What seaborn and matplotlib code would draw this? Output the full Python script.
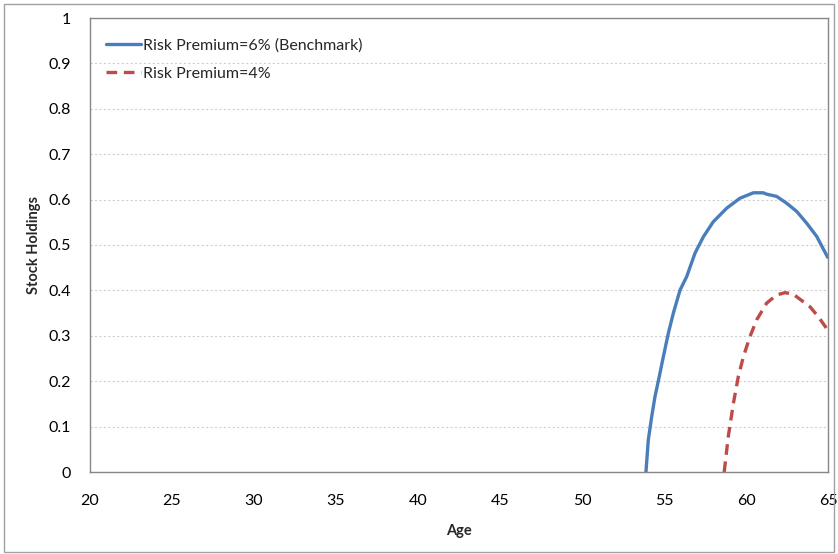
import pandas as pd
import seaborn as sns
import matplotlib.pyplot as plt
from matplotlib.patches import Rectangle

# Datos
age_6 = [53.9, 54.04, 54.25, 54.45, 54.71, 54.96, 55.26, 55.57, 55.98, 56.38,
         56.89, 57.4, 58.0, 58.82, 59.63, 60.45, 61.05, 61.26, 61.87,
         62.48, 63.09, 63.7, 64.31, 64.98]
stock_6 = [0.0, 0.07, 0.122, 0.166, 0.21, 0.254, 0.305, 0.35, 0.401, 0.43,
           0.482, 0.518, 0.551, 0.581, 0.603, 0.615, 0.615, 0.612, 0.607,
           0.592, 0.574, 0.548, 0.519, 0.473]

age_4 = [58.67, 58.92, 59.23, 59.53, 59.84, 60.24, 60.65, 61.26, 61.87, 62.38,
         62.87, 63.09, 63.9, 64.41, 64.92]
stock_4 = [0.0, 0.078, 0.151, 0.21, 0.254, 0.298, 0.335, 0.372, 0.39, 0.395,
           0.392, 0.386, 0.364, 0.342, 0.316]

labels = ['Risk Premium=6% (Benchmark)', 'Risk Premium=4%']
x_ticks = [20, 25, 30, 35, 40, 45, 50, 55, 60, 65]
y_ticks = [0, 0.1, 0.2, 0.3, 0.4, 0.5, 0.6, 0.7, 0.8, 0.9, 1]
y_tick_labels = ['0', '0.1', '0.2', '0.3', '0.4', '0.5', '0.6', '0.7', '0.8', '0.9', '1']

df = pd.concat([
    pd.DataFrame({'Age': age_6, 'Stock': stock_6, 'Serie': labels[0]}),
    pd.DataFrame({'Age': age_4, 'Stock': stock_4, 'Serie': labels[1]}),
])

sns.set_style('white')
plt.rcParams['font.family'] = ['Lato', 'DejaVu Sans']

fig = plt.figure(figsize=(8.38, 5.54), dpi=100)
ax = fig.add_axes([90 / 838, 1 - 472 / 554, 738 / 838, 454 / 554])

sns.lineplot(data=df, x='Age', y='Stock', hue='Serie', style='Serie',
             palette={labels[0]: '#4a7ebb', labels[1]: '#be4b48'},
             dashes={labels[0]: '', labels[1]: (3.2, 2.0)},
             linewidth=2.4, sort=False, estimator=None, ax=ax)

ax.set_xlim(20, 65)
ax.set_ylim(0, 1)
ax.set_xticks(x_ticks)
ax.set_yticks(y_ticks)
ax.set_yticklabels(y_tick_labels)
ax.tick_params(axis='both', length=0, labelsize=11.5, colors='black')
ax.tick_params(axis='x', pad=16)
ax.tick_params(axis='y', pad=14)
for sp in ax.spines.values():
    sp.set_color('#868686')
    sp.set_linewidth(1.0)
ax.yaxis.grid(True, color='#d0d0d0', linestyle=(0, (2, 2)), linewidth=0.8)
ax.set_axisbelow(True)

ax.set_xlabel('Age', fontsize=10.5, fontweight='bold', labelpad=11)
ax.set_ylabel('Stock Holdings', fontsize=10.5, fontweight='bold', labelpad=5)

ax.legend(title=None, loc='upper left', bbox_to_anchor=(0.0, 0.99),
          frameon=False, fontsize=11.5, handlelength=2.2, handletextpad=0.1,
          labelspacing=0.85, borderaxespad=0.6)

# Borde exterior del grafico
fig.patches.append(Rectangle((4 / 838, 2 / 554), 830 / 838, 548 / 554,
                             transform=fig.transFigure, fill=False,
                             edgecolor='#a0a0a0', linewidth=1.0))

fig.savefig('out.png', dpi=100)
